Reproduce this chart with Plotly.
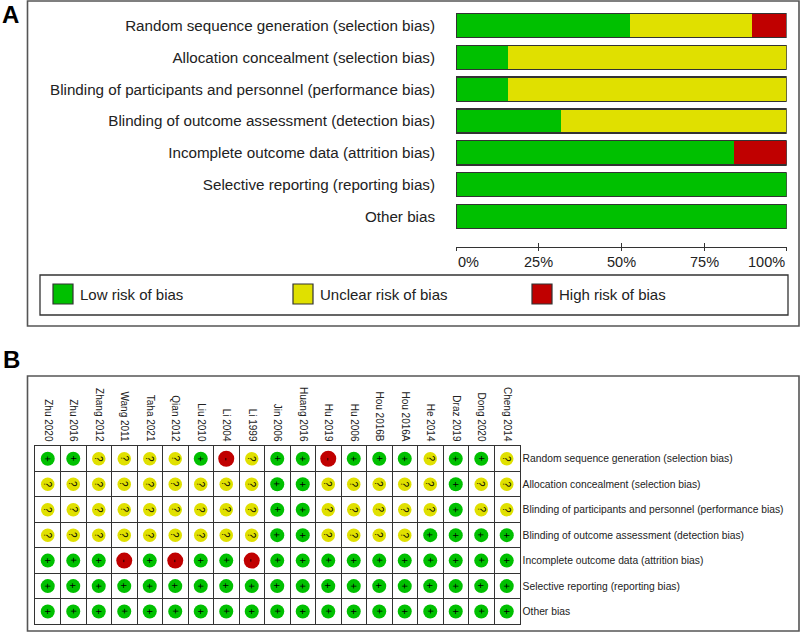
import plotly.graph_objects as go

# ---------------- data ----------------
domains = [
    "Random sequence generation (selection bias)",
    "Allocation concealment (selection bias)",
    "Blinding of participants and personnel (performance bias)",
    "Blinding of outcome assessment (detection bias)",
    "Incomplete outcome data (attrition bias)",
    "Selective reporting (reporting bias)",
    "Other bias",
]
low_pct = [52.6, 15.8, 15.8, 31.6, 84.2, 100.0, 100.0]
unclear_pct = [36.8, 84.2, 84.2, 68.4, 0.0, 0.0, 0.0]
high_pct = [10.5, 0.0, 0.0, 0.0, 15.8, 0.0, 0.0]
tick_vals = [0, 25, 50, 75, 100]
tick_text = ["0%", "25%", "50%", "75%", "100%"]
legend_labels = ["Low risk of bias", "Unclear risk of bias", "High risk of bias"]

studies = ["Zhu 2020", "Zhu 2016", "Zhang 2012", "Wang 2011", "Taha 2021", "Qian 2012",
           "Liu 2010", "Li 2004", "Li 1999", "Jin 2006", "Huang 2016", "Hu 2019",
           "Hu 2006", "Hou 2016B", "Hou 2016A", "He 2014", "Draz 2019", "Dong 2020",
           "Cheng 2014"]
random_sequence = ["+", "+", "?", "?", "?", "?", "+", "-", "?", "+", "+", "-", "+", "+", "+", "?", "+", "+", "?"]
allocation = ["?", "?", "?", "?", "?", "?", "?", "?", "?", "+", "+", "?", "?", "?", "?", "?", "+", "?", "?"]
blinding_participants = ["?", "?", "?", "?", "?", "?", "?", "?", "?", "+", "+", "?", "?", "?", "?", "?", "+", "?", "?"]
blinding_outcome = ["?", "?", "?", "?", "?", "?", "?", "?", "?", "+", "+", "?", "?", "?", "?", "+", "+", "+", "+"]
incomplete_data = ["+", "+", "+", "-", "+", "-", "+", "+", "-", "+", "+", "+", "+", "+", "+", "+", "+", "+", "+"]
selective_reporting = ["+"] * 19
other_bias = ["+"] * 19
judgements = [random_sequence, allocation, blinding_participants, blinding_outcome,
              incomplete_data, selective_reporting, other_bias]

# ---------------- style ----------------
GREEN, YELLOW, RED = "#00C000", "#E0E000", "#C00000"
colour_of = {"+": GREEN, "?": YELLOW, "-": RED}
size_of = {"+": 14, "?": 13.5, "-": 16}
symbol_of = {"+": "+", "?": "?", "-": "-"}
FONT = "Liberation Sans, Arial, Helvetica, sans-serif"
TXT = "#222222"
LINE = "#333333"

W, H = 800, 633
def px(x):
    return x / W
def py(y):
    return 1 - y / H

fig = go.Figure()

# ---- Panel A: stacked bars ----
for vals, col in [(low_pct, GREEN), (unclear_pct, YELLOW), (high_pct, RED)]:
    fig.add_trace(go.Bar(y=domains, x=vals, orientation="h", xaxis="x", yaxis="y",
                         marker=dict(color=col, line=dict(width=0)),
                         showlegend=False, hoverinfo="skip"))
totals = [l + u + h for l, u, h in zip(low_pct, unclear_pct, high_pct)]
fig.add_trace(go.Bar(y=domains, x=totals, orientation="h", xaxis="x3", yaxis="y3",
                     marker=dict(color="rgba(0,0,0,0)", line=dict(color=LINE, width=1.3)),
                     showlegend=False, hoverinfo="skip"))

# ---- Panel B: traffic-light grid ----
for key in ["+", "?", "-"]:
    xs, ys = [], []
    for d, row in zip(domains, judgements):
        for s, j in zip(studies, row):
            if j == key:
                xs.append(s)
                ys.append(d)
    fig.add_trace(go.Scatter(x=xs, y=ys, mode="markers", xaxis="x2", yaxis="y2",
                             marker=dict(color=colour_of[key], size=size_of[key], line=dict(width=0)),
                             showlegend=False, hoverinfo="skip"))

annotations = []
for d, row in zip(domains, judgements):
    for s, j in zip(studies, row):
        annotations.append(dict(x=s, y=d, xref="x2", yref="y2", text=symbol_of[j],
                                showarrow=False, textangle=90,
                                font=dict(family=FONT, size=10, color="#000"),
                                xanchor="center", yanchor="middle"))

# tick labels panel A
for v, t in zip(tick_vals, tick_text):
    anchor = "left" if v == tick_vals[0] else ("right" if v == tick_vals[-1] else "center")
    annotations.append(dict(x=v, y=py(262), xref="x", yref="paper", text=t, showarrow=False,
                            xanchor=anchor, yanchor="middle",
                            font=dict(family=FONT, size=14.5, color=TXT)))

# legend
leg_sq_x = [53, 293, 532]
shapes = []
for xx, lab, col in zip(leg_sq_x, legend_labels, [GREEN, YELLOW, RED]):
    shapes.append(dict(type="rect", xref="paper", yref="paper",
                       x0=px(xx), x1=px(xx + 20), y0=py(304), y1=py(284),
                       fillcolor=col, line=dict(color=LINE, width=1.2)))
    annotations.append(dict(x=px(xx + 25), y=py(294.5), xref="paper", yref="paper", text=lab,
                            showarrow=False, xanchor="left", yanchor="middle",
                            font=dict(family=FONT, size=15, color=TXT)))

# panel boxes
shapes.append(dict(type="rect", xref="paper", yref="paper", x0=px(27.5), x1=px(799), y0=py(326), y1=py(1),
                   line=dict(color="#555", width=1.6), fillcolor="rgba(0,0,0,0)", layer="below"))
shapes.append(dict(type="rect", xref="paper", yref="paper", x0=px(40), x1=px(788), y0=py(315), y1=py(275),
                   line=dict(color=LINE, width=1.3), fillcolor="rgba(0,0,0,0)"))
shapes.append(dict(type="rect", xref="paper", yref="paper", x0=px(27.5), x1=px(799), y0=py(631), y1=py(376),
                   line=dict(color="#555", width=1.6), fillcolor="rgba(0,0,0,0)", layer="below"))

# panel letters
annotations.append(dict(x=px(1), y=1.0, xref="paper", yref="paper", text="<b>A</b>", showarrow=False,
                        xanchor="left", yanchor="top", borderpad=0,
                        font=dict(family=FONT, size=24, color="#000")))
annotations.append(dict(x=px(1), y=py(359), xref="paper", yref="paper", text="<b>B</b>", showarrow=False,
                        xanchor="left", yanchor="middle", font=dict(family=FONT, size=24, color="#000")))

fig.update_layout(
    width=W, height=H, margin=dict(l=0, r=0, t=0, b=0),
    paper_bgcolor="white", plot_bgcolor="white",
    barmode="stack", bargap=0.24, showlegend=False,
    font=dict(family=FONT, color=TXT),
    xaxis=dict(domain=[px(456), px(786.7)], range=[0, 100], anchor="free", position=py(247),
               showline=True, linecolor=LINE, linewidth=1.3, ticks="outside", ticklen=3,
               tickwidth=1.3, tickcolor=LINE, tickvals=tick_vals, showticklabels=False,
               showgrid=False, zeroline=False, fixedrange=True),
    yaxis=dict(domain=[py(232.35), py(9.65)], anchor="x", type="category", categoryarray=domains,
               categoryorder="array", range=[6.5, -0.5], showgrid=False, zeroline=False,
               ticks="", ticklabelstandoff=20, tickfont=dict(family=FONT, size=15.2, color=TXT),
               showline=False, fixedrange=True),
    xaxis3=dict(overlaying="x", range=[0, 100], anchor="free", position=py(247),
                ticks="inside", ticklen=4, tickwidth=1.3, tickcolor=LINE, tickvals=tick_vals,
                showticklabels=False, showline=False, showgrid=False, zeroline=False, fixedrange=True),
    yaxis3=dict(overlaying="y", type="category", categoryarray=domains, categoryorder="array",
                range=[6.5, -0.5], visible=False, fixedrange=True),
    xaxis2=dict(domain=[px(35), px(519.5)], anchor="y2", type="category", categoryarray=studies,
                categoryorder="array", range=[-0.5, 18.5], side="top", tickangle=90,
                tickfont=dict(family=FONT, size=10, color=TXT), showgrid=True, gridcolor=LINE,
                gridwidth=1, tickson="boundaries", showline=True, mirror=True, linecolor=LINE,
                linewidth=1, ticks="", zeroline=False, fixedrange=True),
    yaxis2=dict(domain=[py(624.3), py(446)], anchor="x2", type="category", categoryarray=domains,
                categoryorder="array", range=[6.5, -0.5], side="right",
                tickfont=dict(family=FONT, size=10.3, color=TXT), showgrid=True, gridcolor=LINE,
                gridwidth=1, tickson="boundaries", showline=True, mirror=True, linecolor=LINE,
                linewidth=1, ticks="", zeroline=False, fixedrange=True),
    shapes=shapes, annotations=annotations,
)

fig.write_html("out.html", config={"displayModeBar": False},
               post_script="document.body.style.margin='0';document.body.style.overflow='hidden';")
